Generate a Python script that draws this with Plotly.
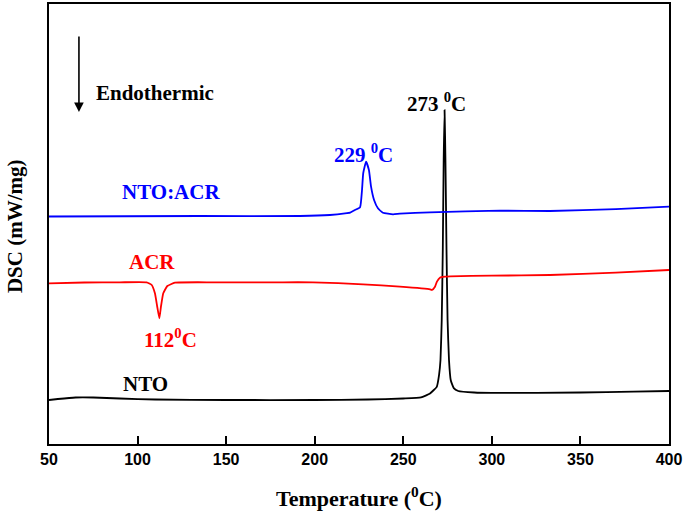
import plotly.graph_objects as go

# Temperature (deg C) and DSC signal (arbitrary offset units)
nto_x = [50, 55, 65, 75, 90, 110, 150, 200, 230, 250, 260, 265.1, 268.9, 270.2, 271.0, 271.7,
         272.3, 272.8, 273.3, 273.8, 274.4, 275.0, 275.8, 276.8, 278.5, 281, 290, 300, 350, 380, 400]
nto_y = [10.0, 10.23, 10.57, 10.57, 10.34, 10.11, 10.0, 10.0, 10.11, 10.34, 10.57, 11.5, 13.0, 15.7, 19.1, 28.2,
         44.1, 64.5, 75.9, 64.5, 44.1, 28.2, 19.1, 14.5, 12.7, 12.05, 11.7, 11.6, 11.7, 11.9, 12.05]

acr_x = [50, 70, 90, 105.1, 108.0, 109.8, 111.1, 112.3, 113.2, 114.5, 116.8, 121.1, 142.8, 182.1,
         199, 227.3, 248.1, 265.1, 266.2, 267.9, 269.0, 270.7, 273.5, 276.4, 300, 332.8, 370, 400]
acr_y = [36.52, 36.7, 36.75, 36.75, 36.14, 34.25, 31.20, 28.57, 31.20, 34.25, 35.91, 36.66, 36.75, 36.75,
         36.75, 36.30, 35.75, 35.16, 35.0, 35.75, 36.89, 37.80, 38.02, 38.11, 38.25, 38.41, 38.95, 39.55]

mix_x = [50, 135.2, 191.7, 208.6, 217.1, 220.0, 222.7, 225.6, 226.7, 227.4, 229.0, 230.6, 231.8, 233.5,
         235.7, 238.5, 244.2, 248.1, 265.0, 304.6, 332.8, 370, 400]
mix_y = [51.70, 51.82, 51.82, 52.05, 52.39, 52.57, 53.18, 53.80, 57.73, 61.59, 64.16, 62.27, 58.48, 55.45,
         53.57, 52.57, 52.20, 52.34, 52.66, 53.02, 52.95, 53.4, 53.93]

x_ticks = [50, 100, 150, 200, 250, 300, 350, 400]

SERIF = "Liberation Serif"
SANS = "Liberation Sans"

fig = go.Figure()
fig.add_trace(go.Scatter(x=nto_x, y=nto_y, mode="lines", line=dict(color="black", width=1.8, shape="spline", smoothing=0.4), showlegend=False))
fig.add_trace(go.Scatter(x=acr_x, y=acr_y, mode="lines", line=dict(color="#FF0000", width=1.8, shape="spline", smoothing=0.4), showlegend=False))
fig.add_trace(go.Scatter(x=mix_x, y=mix_y, mode="lines", line=dict(color="#0000FF", width=1.8, shape="spline", smoothing=0.4), showlegend=False))

def label(text, x, y, color, anchor="center"):
    fig.add_annotation(x=x, y=y, text=text, showarrow=False, xanchor=anchor, yanchor="middle",
                       font=dict(family=SERIF, size=21, color=color, weight="bold"))

label("NTO:ACR", 118.6, 57.2, "#0000FF")
label("ACR", 108.4, 41.4, "#FF0000")
label("112<sup>0</sup>C", 118.6, 24.0, "#FF0000")
label("NTO", 104.5, 13.6, "black")
label("229 <sup>0</sup>C", 227.8, 66.0, "#0000FF")
label("273 <sup>0</sup>C", 269.0, 77.7, "black")
label("Endothermic", 75.4, 79.8, "black", anchor="left")

# downward arrow
fig.add_annotation(x=66.9, y=75.45, ax=66.9, ay=92.95, xref="x", yref="y", axref="x", ayref="y",
                   text="", showarrow=True, arrowhead=2, arrowsize=1.2, arrowwidth=1.6, arrowcolor="black")

# axis titles
fig.add_annotation(x=0.5, y=-0.121, xref="paper", yref="paper", text="Temperature (<sup>0</sup>C)",
                   showarrow=False, xanchor="center", yanchor="middle",
                   font=dict(family=SERIF, size=22, color="black", weight="bold"))
fig.add_annotation(x=-0.055, y=0.495, xref="paper", yref="paper", text="DSC (mW/mg)", textangle=-90,
                   showarrow=False, xanchor="center", yanchor="middle",
                   font=dict(family=SERIF, size=21, color="black", weight="bold"))

fig.update_layout(
    width=685, height=519,
    margin=dict(l=49, r=16, t=4, b=75),
    plot_bgcolor="white", paper_bgcolor="white",
    xaxis=dict(range=[50, 400], tickvals=x_ticks, ticktext=[str(v) for v in x_ticks],
               ticks="inside", ticklen=8, tickwidth=1.5, tickcolor="black", automargin=False,
               showline=True, linecolor="black", linewidth=1.6, mirror=True, showgrid=False, zeroline=False,
               tickfont=dict(family=SANS, size=16, color="black", weight="bold")),
    yaxis=dict(range=[0, 100], showticklabels=False, ticks="", automargin=False,
               showline=True, linecolor="black", linewidth=1.6, mirror=True, showgrid=False, zeroline=False),
)

fig.write_html("out.html", config={"displayModeBar": False},
               post_script="document.body.style.margin='0';")
